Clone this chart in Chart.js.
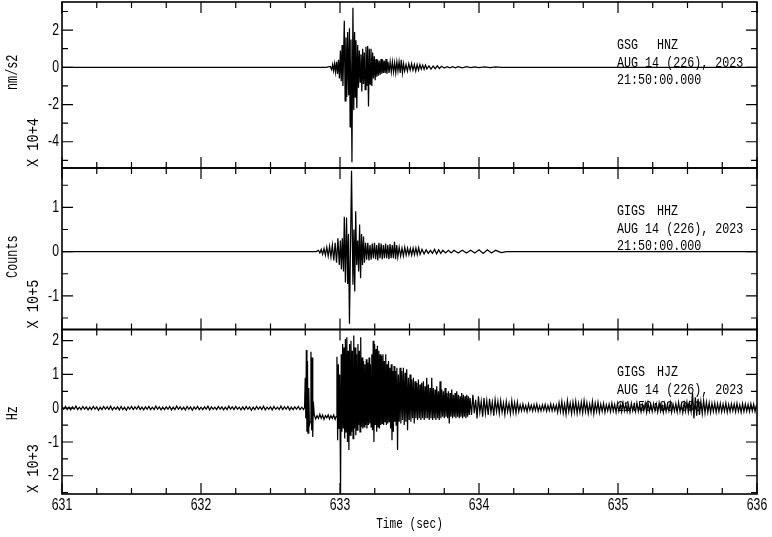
<!DOCTYPE html>
<html>
<head>
<meta charset="utf-8">
<script src="https://cdn.jsdelivr.net/npm/chart.js@4/dist/chart.umd.min.js"></script>
<style>
  html, body { margin: 0; padding: 0; background: #fff; }
  #wrap { position: relative; width: 772px; height: 537px; }
  #wrap canvas { position: absolute; left: 0; top: 0; }
</style>
</head>
<body>
<div id="wrap">
  <canvas id="panelTop" width="772" height="537"></canvas>
  <canvas id="panelMid" width="772" height="537"></canvas>
  <canvas id="panelLow" width="772" height="537"></canvas>
</div>
<script>
// time axis (sec)
const timeMin = 631;
const timeMax = 636;
const timeTitle = 'Time (sec)';

// header text, one entry per panel
const stations = ['GSG', 'GIGS', 'GIGS'];
const channels = ['HNZ', 'HHZ', 'HJZ'];
const dateText = 'AUG 14 (226), 2023';
const clockText = '21:50:00.000';
const units = ['nm/s2', 'Counts', 'Hz'];
const multipliers = ['X 10+4', 'X 10+5', 'X 10+3'];

// amplitude axes (in units of the multiplier)
const yMins = [-5.41, -1.76, -2.54];
const yMaxs = [3.51, 1.89, 2.33];
const yMinorSteps = [1, 0.5, 0.5];
const yMajorSteps = [2, 1, 1];

// GSG HNZ - peaks
const hnzTime = [631.000, 632.900, 632.930, 632.940, 632.947, 632.954, 632.961, 632.968, 632.975, 632.982,
  632.989, 632.996, 633.003, 633.009, 633.015, 633.021, 633.031, 633.037, 633.043, 633.049,
  633.055, 633.062, 633.068, 633.073, 633.079, 633.086, 633.093, 633.099, 633.105, 633.110,
  633.115, 633.121, 633.127, 633.133, 633.139, 633.145, 633.151, 633.157, 633.163, 633.169,
  633.175, 633.181, 633.187, 633.193, 633.199, 633.205, 633.211, 633.217, 633.223, 633.229,
  633.235, 633.241, 633.247, 633.253, 633.259, 633.265, 633.271, 633.277, 633.283, 633.289,
  633.295, 633.301, 633.307, 633.313, 633.319, 633.325, 633.331, 633.337, 633.345, 633.353,
  633.361, 633.369, 633.377, 633.385, 633.393, 633.401, 633.409, 633.417, 633.425, 633.433,
  633.441, 633.449, 633.457, 633.465, 633.475, 633.485, 633.495, 633.505, 633.515, 633.525,
  633.535, 633.545, 633.555, 633.565, 633.575, 633.585, 633.595, 633.605, 633.615, 633.625,
  633.640, 633.655, 633.670, 633.685, 633.700, 633.715, 633.730, 633.750, 633.770, 633.790,
  633.810, 633.830, 633.850, 633.880, 633.910, 633.940, 633.970, 634.000, 634.040, 634.080,
  634.120, 634.160, 636.000];
const hnzValue = [0, 0, 0.05, -0.12, 0.15, -0.18, 0.2, -0.25, 0.3, -0.35,
  0.4, -0.6, 0.9, -0.75, 1.2, -1.0, 2.5, -1.8, 1.6, -1.6,
  1.9, -1.5, 2.1, -3.2, 1.5, -5.1, 3.2, -2.3, 1.9, -1.6,
  1.45, -2.2, 1.2, -1.1, 0.9, -0.8, 0.7, -1.3, 1.0, -0.9,
  0.8, -1.2, 1.1, -1.0, 1.15, -2.1, 1.0, -0.9, 1.0, -1.0,
  0.8, -0.6, 0.6, -0.7, 0.45, -0.5, 0.4, -0.45, 0.35, -0.4,
  0.45, -0.35, 0.4, -0.3, 0.35, -0.3, 0.45, -0.35, 0.3, -0.3,
  0.3, -0.25, 0.3, -0.25, 0.25, -0.3, 0.3, -0.2, 0.3, -0.3,
  0.4, -0.3, 0.2, -0.2, 0.15, -0.2, 0.2, -0.15, 0.2, -0.15,
  0.15, -0.2, 0.15, -0.15, 0.15, -0.1, 0.12, -0.1, 0.12, -0.08,
  0.08, -0.1, 0.07, -0.07, 0.08, -0.06, 0.06, -0.04, 0.04, -0.03,
  0.04, -0.03, 0.03, -0.03, 0.03, -0.02, 0.02, -0.02, 0.02, -0.02,
  0.02, 0, 0];

// GIGS HHZ
const hhzTime = [631.000, 632.830, 632.845, 632.855, 632.865, 632.875, 632.885, 632.895, 632.905, 632.915,
  632.925, 632.935, 632.945, 632.955, 632.965, 632.975, 632.985, 632.995, 633.003, 633.010,
  633.017, 633.025, 633.031, 633.039, 633.047, 633.055, 633.061, 633.068, 633.083, 633.093,
  633.100, 633.106, 633.113, 633.120, 633.127, 633.134, 633.141, 633.148, 633.155, 633.162,
  633.169, 633.176, 633.184, 633.192, 633.200, 633.208, 633.216, 633.224, 633.232, 633.240,
  633.248, 633.256, 633.264, 633.272, 633.280, 633.288, 633.296, 633.304, 633.312, 633.320,
  633.328, 633.336, 633.344, 633.352, 633.360, 633.368, 633.376, 633.384, 633.392, 633.400,
  633.408, 633.416, 633.426, 633.436, 633.446, 633.456, 633.466, 633.476, 633.486, 633.496,
  633.506, 633.516, 633.526, 633.536, 633.546, 633.556, 633.566, 633.576, 633.590, 633.605,
  633.620, 633.635, 633.650, 633.665, 633.680, 633.695, 633.710, 633.725, 633.740, 633.760,
  633.780, 633.800, 633.820, 633.850, 633.880, 633.910, 633.940, 633.970, 634.000, 634.030,
  634.060, 634.090, 634.120, 634.160, 634.200, 636.000];
const hhzValue = [0, 0, 0.03, -0.03, 0.05, -0.06, 0.07, -0.08, 0.1, -0.1,
  0.12, -0.12, 0.15, -0.2, 0.2, -0.25, 0.3, -0.3, 0.25, -0.4,
  0.3, -0.45, 0.79, -0.7, 0.77, -0.73, 0.4, -1.63, 1.83, -0.75,
  0.5, -0.9, 0.91, -0.3, 0.25, -0.45, 0.61, -0.6, 0.4, -0.3,
  0.34, -0.25, 0.2, -0.18, 0.2, -0.2, 0.15, -0.18, 0.18, -0.15,
  0.2, -0.17, 0.15, -0.2, 0.2, -0.15, 0.18, -0.17, 0.15, -0.15,
  0.18, -0.15, 0.15, -0.17, 0.17, -0.15, 0.15, -0.15, 0.22, -0.17,
  0.15, -0.12, 0.1, -0.1, 0.08, -0.1, 0.1, -0.08, 0.08, -0.07,
  0.07, -0.08, 0.08, -0.07, 0.08, -0.07, 0.09, -0.06, 0.05, -0.05,
  0.04, -0.04, 0.03, -0.04, 0.05, -0.05, 0.04, -0.04, 0.03, -0.03,
  0.03, -0.03, 0.03, -0.03, 0.03, -0.03, 0.03, -0.03, 0.04, -0.04,
  0.04, -0.03, 0.03, -0.02, 0, 0];

// GIGS HJZ - pre-event noise, sampled every 0.0125 s from 631.0
const hjzNoiseStart = 631.0;
const hjzNoiseStep = 0.0125;
const hjzNoise = [0.04, -0.03, 0.05, -0.04, 0.03, -0.05, 0.04, -0.03, 0.06, -0.04, 0.03, -0.04, 0.05, -0.03, 0.04, -0.05, 0.03, -0.04, 0.05, -0.03,
  0.04, -0.06, 0.03, -0.04, 0.05, -0.03, 0.04, -0.04, 0.06, -0.05, 0.03, -0.03, 0.04, -0.05, 0.05, -0.04, 0.03, -0.06, 0.04, -0.03,
  0.05, -0.04, 0.04, -0.03, 0.06, -0.04, 0.03, -0.05, 0.04, -0.03, 0.05, -0.04, 0.03, -0.04, 0.06, -0.03, 0.04, -0.05, 0.03, -0.04,
  0.04, -0.03, 0.05, -0.05, 0.03, -0.04, 0.06, -0.03, 0.04, -0.04, 0.03, -0.05, 0.05, -0.03, 0.04, -0.06, 0.04, -0.03, 0.05, -0.04,
  0.03, -0.04, 0.04, -0.03, 0.06, -0.05, 0.04, -0.03, 0.03, -0.04, 0.05, -0.03, 0.04, -0.05, 0.03, -0.04, 0.06, -0.03, 0.04, -0.04,
  0.05, -0.03, 0.03, -0.05, 0.04, -0.04, 0.05, -0.03, 0.04, -0.06, 0.03, -0.04, 0.05, -0.03, 0.04, -0.04, 0.06, -0.05, 0.03, -0.03,
  0.04, -0.05, 0.05, -0.03, 0.03, -0.04, 0.06, -0.04, 0.04, -0.03, 0.05, -0.05, 0.03, -0.04, 0.04, -0.03, 0.05, -0.04, 0.03, -0.04];

// GIGS HJZ - event, peaks
const hjzTime = [632.745, 632.750, 632.754, 632.758, 632.762, 632.766, 632.770, 632.775, 632.780, 632.786,
  632.791, 632.796, 632.800, 632.804, 632.808, 632.815, 632.825, 632.835, 632.845, 632.855,
  632.865, 632.875, 632.885, 632.895, 632.905, 632.915, 632.925, 632.935, 632.945, 632.955,
  632.965, 632.972, 632.978, 632.983, 632.988, 632.993, 632.998, 633.004, 633.009, 633.014,
  633.019, 633.024, 633.029, 633.034, 633.039, 633.044, 633.049, 633.054, 633.059, 633.064,
  633.069, 633.074, 633.079, 633.084, 633.089, 633.094, 633.099, 633.104, 633.109, 633.114,
  633.119, 633.124, 633.129, 633.134, 633.139, 633.144, 633.149, 633.154, 633.159, 633.164,
  633.169, 633.174, 633.179, 633.184, 633.189, 633.194, 633.199, 633.204, 633.209, 633.214,
  633.219, 633.224, 633.229, 633.234, 633.239, 633.244, 633.249, 633.254, 633.259, 633.264,
  633.269, 633.274, 633.279, 633.284, 633.289, 633.294, 633.299, 633.304, 633.309, 633.314,
  633.319, 633.324, 633.329, 633.334, 633.339, 633.344, 633.349, 633.354, 633.359, 633.364,
  633.369, 633.374, 633.379, 633.384, 633.389, 633.394, 633.399, 633.404, 633.409, 633.414,
  633.420, 633.426, 633.432, 633.438, 633.444, 633.450, 633.456, 633.462, 633.468, 633.474,
  633.480, 633.486, 633.492, 633.498, 633.504, 633.510, 633.516, 633.522, 633.528, 633.534,
  633.540, 633.546, 633.552, 633.558, 633.564, 633.570, 633.576, 633.582, 633.588, 633.594,
  633.600, 633.606, 633.612, 633.618, 633.624, 633.630, 633.636, 633.642, 633.648, 633.654,
  633.660, 633.666, 633.672, 633.678, 633.684, 633.690, 633.696, 633.702, 633.708, 633.714,
  633.720, 633.726, 633.732, 633.738, 633.744, 633.750, 633.756, 633.762, 633.768, 633.774,
  633.780, 633.786, 633.792, 633.798, 633.804, 633.810, 633.816, 633.822, 633.828, 633.834,
  633.840, 633.846, 633.852, 633.858, 633.864, 633.870, 633.876, 633.882, 633.888, 633.894,
  633.900, 633.906, 633.912, 633.918, 633.924, 633.930];
const hjzValue = [0.02, 0.9, -0.3, 1.72, -0.7, 1.4, -0.74, 0.6, -0.5, -0.4,
  1.67, -0.65, 1.5, -0.85, 0.2, -0.2, -0.32, -0.22, -0.3, -0.18,
  -0.3, -0.2, -0.33, -0.22, -0.28, -0.2, -0.32, -0.22, -0.3, -0.2,
  -0.33, -0.25, 1.52, -0.95, 1.3, -0.6, 1.0, -2.5, 1.6, -0.7,
  1.9, -0.6, 1.8, -0.9, 2.05, -0.7, 2.1, -1.0, 1.7, -1.24,
  1.9, -0.8, 2.0, -0.7, 1.7, -0.9, 2.15, -0.6, 1.8, -0.8,
  1.6, -0.65, 1.9, -0.5, 1.7, -0.7, 2.1, -0.55, 1.5, -0.6,
  1.4, -0.55, 1.3, -0.5, 1.45, -0.6, 1.35, -0.5, 1.5, -0.45,
  1.3, -0.55, 1.6, -0.65, 2.0, -1.0, 1.9, -0.5, 1.75, -0.7,
  1.85, -0.55, 1.7, -0.6, 1.6, -0.5, 1.55, -0.45, 1.6, -0.5,
  1.4, -0.4, 1.6, -0.5, 1.3, -0.45, 1.4, -0.4, 1.2, -0.6,
  1.3, -0.95, 1.1, -0.7, 1.25, -0.4, 1.1, -0.5, 1.2, -1.24,
  1.0, -0.4, 1.2, -0.45, 1.1, -0.35, 1.2, -0.5, 1.05, -0.4,
  1.15, -0.65, 0.9, -0.35, 1.0, -0.4, 0.85, -0.3, 0.9, -0.45,
  0.8, -0.3, 0.75, -0.35, 0.85, -0.3, 0.7, -0.35, 0.75, -0.3,
  0.8, -0.35, 0.65, -0.3, 0.9, -0.3, 0.7, -0.35, 0.6, -0.3,
  0.9, -0.35, 0.6, -0.3, 0.55, -0.35, 0.65, -0.3, 0.5, -0.35,
  0.8, -0.3, 0.55, -0.25, 0.5, -0.3, 0.6, -0.25, 0.45, -0.3,
  0.5, -0.45, 0.45, -0.25, 0.55, -0.3, 0.4, -0.25, 0.45, -0.3,
  0.5, -0.25, 0.4, -0.3, 0.35, -0.25, 0.45, -0.3, 0.4, -0.25,
  0.35, -0.3, 0.4, -0.25, 0.35, -0.2];

// GIGS HJZ - coda, sampled every 0.01 s from 633.936
const hjzCodaStart = 633.936;
const hjzCodaStep = 0.01;
const hjzCoda = [0.3, -0.2, 0.4, -0.15, 0.25, -0.3, 0.35, -0.12, 0.2, -0.25, 0.3, -0.15, 0.22, -0.2, 0.28, -0.12, 0.18, -0.22, 0.25, -0.1,
  0.2, -0.15, 0.22, -0.12, 0.15, -0.18, 0.2, -0.1, 0.14, -0.16, 0.22, -0.12, 0.16, -0.14, 0.18, -0.1, 0.1, -0.08, 0.12, -0.07,
  0.08, -0.1, 0.12, -0.06, 0.09, -0.08, 0.1, -0.07, 0.12, -0.09, 0.07, -0.08, 0.1, -0.06, 0.11, -0.09, 0.08, -0.07, 0.12, -0.08,
  0.1, -0.07, 0.09, -0.12, 0.16, -0.1, 0.2, -0.14, 0.12, -0.18, 0.22, -0.1, 0.15, -0.16, 0.18, -0.12, 0.2, -0.15, 0.14, -0.12,
  0.18, -0.14, 0.22, -0.1, 0.16, -0.15, 0.12, -0.12, 0.2, -0.16, 0.15, -0.1, 0.17, -0.13, 0.12, -0.09, 0.14, -0.12, 0.1, -0.08,
  0.12, -0.1, 0.15, -0.08, 0.11, -0.12, 0.14, -0.09, 0.1, -0.11, 0.16, -0.08, 0.12, -0.1, 0.09, -0.12, 0.14, -0.08, 0.11, -0.1,
  0.15, -0.09, 0.12, -0.11, 0.1, -0.08, 0.14, -0.12, 0.16, -0.09, 0.11, -0.1, 0.13, -0.08, 0.12, -0.11, 0.15, -0.09, 0.1, -0.12,
  0.14, -0.1, 0.12, -0.08, 0.16, -0.12, 0.11, -0.09, 0.13, -0.11, 0.17, -0.1, 0.12, -0.13, 0.15, -0.09, 0.18, -0.12, 0.14, -0.1,
  0.44, -0.3, 0.32, -0.22, 0.28, -0.2, 0.2, -0.16, 0.22, -0.14, 0.18, -0.12, 0.16, -0.13, 0.14, -0.1, 0.15, -0.12, 0.13, -0.1,
  0.14, -0.11, 0.12, -0.09, 0.15, -0.12, 0.11, -0.1, 0.13, -0.08, 0.12, -0.11, 0.14, -0.09, 0.1, -0.12, 0.13, -0.1, 0.12, -0.09,
  0.11, -0.1, 0.13, -0.08, 0.12, -0.1, 0.1];

const MONO = "'Liberation Mono', 'DejaVu Sans Mono', monospace";
const SANS = "'Liberation Sans', Arial, sans-serif";

function isStep(v, step) {
    const r = v / step;
    return Math.abs(r - Math.round(r)) < 1e-6;
}

function toPoints(times, values) {
    return times.map((t, i) => ({x: t, y: values[i]}));
}

function sampled(start, step, values) {
    return values.map((v, i) => ({x: start + i * step, y: v}));
}

// condensed text: the plot font is a narrow fixed-width face
function putText(ctx, text, x, y, font, squeeze, align, angle) {
    ctx.save();
    ctx.translate(x, y);
    if (angle) ctx.rotate(angle);
    ctx.scale(squeeze, 1);
    ctx.font = font;
    ctx.fillStyle = '#000';
    ctx.textAlign = align;
    ctx.textBaseline = 'middle';
    ctx.fillText(text, 0, 0);
    ctx.restore();
}

// box with inward ticks on all four sides, tick labels, header and axis notes
const panelFrame = {
    id: 'panelFrame',
    afterDatasetsDraw(chart, args, opts) {
        const {ctx, chartArea: a, scales: {x, y}} = chart;
        ctx.save();
        ctx.strokeStyle = '#000';
        ctx.lineWidth = 1.2;
        ctx.beginPath();
        x.ticks.forEach(t => {
            const px = x.getPixelForValue(t.value);
            const len = isStep(t.value, 1) ? 11 : 6;
            ctx.moveTo(px, a.top); ctx.lineTo(px, a.top + len);
            ctx.moveTo(px, a.bottom); ctx.lineTo(px, a.bottom - len);
        });
        y.ticks.forEach(t => {
            const py = y.getPixelForValue(t.value);
            const len = isStep(t.value, opts.major) ? 11 : 6;
            ctx.moveTo(a.left, py); ctx.lineTo(a.left + len, py);
            ctx.moveTo(a.right, py); ctx.lineTo(a.right - len, py);
        });
        ctx.stroke();
        ctx.lineWidth = 1.6;
        ctx.strokeRect(a.left, a.top, a.right - a.left, a.bottom - a.top);
        ctx.restore();

        const tickFont = '17px ' + SANS;
        y.ticks.forEach(t => {
            if (!isStep(t.value, opts.major)) return;
            putText(ctx, String(Math.round(t.value)), a.left - 3, y.getPixelForValue(t.value),
                tickFont, 0.72, 'right');
        });
        if (opts.last) {
            x.ticks.forEach(t => {
                if (!isStep(t.value, 1)) return;
                putText(ctx, String(Math.round(t.value)), x.getPixelForValue(t.value), a.bottom + 11,
                    tickFont, 0.72, 'center');
            });
            putText(ctx, timeTitle, (a.left + a.right) / 2, a.bottom + 30, '15px ' + MONO, 0.74, 'center');
        }

        const head = '15px ' + MONO;
        putText(ctx, opts.station, 617, a.top + 43, head, 0.78, 'left');
        putText(ctx, opts.channel, 657, a.top + 43, head, 0.78, 'left');
        putText(ctx, dateText, 617, a.top + 61, head, 0.78, 'left');
        putText(ctx, clockText, 617, a.top + 78, head, 0.78, 'left');

        putText(ctx, opts.unit, 13, y.getPixelForValue(0) + 5, '16px ' + MONO, 0.74, 'center', -Math.PI / 2);
        putText(ctx, opts.mult, 34, a.bottom - 1, '16px ' + MONO, 0.85, 'left', -Math.PI / 2);
    }
};

function makePanel(id, i, data, padTop, padBottom, isLast) {
    return new Chart(document.getElementById(id), {
        type: 'line',
        data: {
            datasets: [{
                data: data,
                borderColor: '#000',
                borderWidth: 1.25,
                pointRadius: 0,
                tension: 0,
                fill: false,
            }]
        },
        options: {
            responsive: false,
            animation: false,
            events: [],
            layout: {padding: {top: padTop, bottom: padBottom, left: 0, right: 15}},
            scales: {
                x: {
                    type: 'linear',
                    min: timeMin,
                    max: timeMax,
                    grid: {display: false},
                    border: {display: false},
                    ticks: {display: false, stepSize: 0.25, maxTicksLimit: 100, autoSkip: false},
                    afterFit: s => {
                        s.height = isLast ? 43 : 0;
                        s.paddingLeft = 0; s.paddingRight = 0;
                    },
                },
                y: {
                    min: yMins[i],
                    max: yMaxs[i],
                    grid: {display: false},
                    border: {display: false},
                    ticks: {
                        display: false,
                        stepSize: yMinorSteps[i],
                        includeBounds: false,
                        maxTicksLimit: 100,
                        autoSkip: false,
                    },
                    afterFit: s => {
                        s.width = 62;
                        s.paddingTop = 0; s.paddingBottom = 0;
                    },
                },
            },
            plugins: {
                legend: {display: false},
                tooltip: {enabled: false},
                panelFrame: {
                    station: stations[i],
                    channel: channels[i],
                    unit: units[i],
                    mult: multipliers[i],
                    major: yMajorSteps[i],
                    last: isLast,
                },
            },
        },
        plugins: [panelFrame],
    });
}

const hjzData = sampled(hjzNoiseStart, hjzNoiseStep, hjzNoise)
    .concat(toPoints(hjzTime, hjzValue))
    .concat(sampled(hjzCodaStart, hjzCodaStep, hjzCoda));

makePanel('panelTop', 0, toPoints(hnzTime, hnzValue), 2, 369, false);
makePanel('panelMid', 1, toPoints(hhzTime, hhzValue), 168, 207.5, false);
makePanel('panelLow', 2, hjzData, 329.5, 0, true);
</script>
</body>
</html>
